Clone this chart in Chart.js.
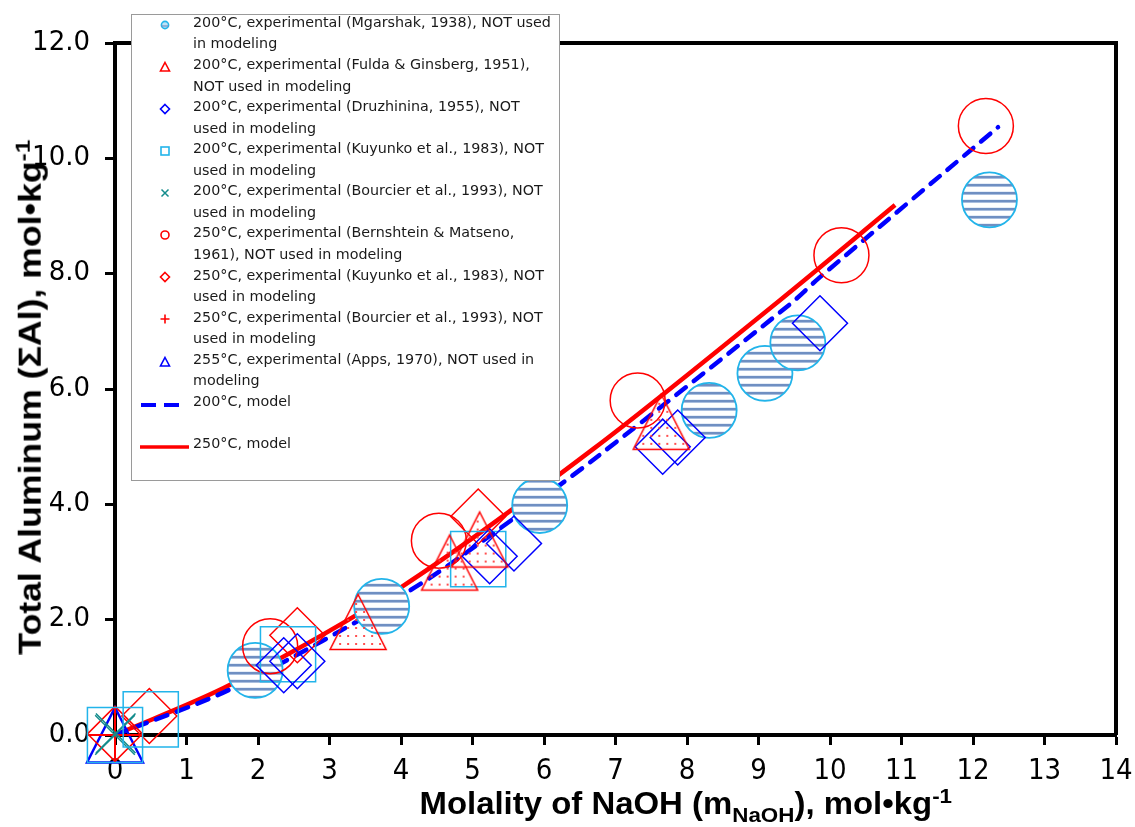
<!DOCTYPE html>
<html><head><meta charset="utf-8">
<script src="https://cdn.jsdelivr.net/npm/chart.js@4/dist/chart.umd.min.js"></script>
<style>
html,body{margin:0;padding:0;background:#fff;}
#wrap{position:relative;width:1135px;height:827px;overflow:hidden;}
#c{position:absolute;left:0;top:0;}
#legend{position:absolute;left:131px;top:14px;width:427px;height:465px;background:#fff;border:1px solid #9a9a9a;font-family:'DejaVu Sans',sans-serif;color:#1a1a1a;}
.ent{position:absolute;left:61px;white-space:nowrap;line-height:21.5px;}
.mk{position:absolute;width:16px;height:16px;}
.title{position:absolute;font-family:'Liberation Sans',Arial,sans-serif;font-weight:bold;white-space:nowrap;color:#000;line-height:1;transform-origin:50% 50%;}
.title sub,.title sup{font-size:68%;}
</style></head>
<body>
<div id="wrap">
<canvas id="c" width="1135" height="827"></canvas>
<div id="legend"></div>
<div id="ytitle" class="title" style="font-size:31px">Total Aluminum (&Sigma;Al), mol&bull;kg<sup>-1</sup></div>
<div id="xtitle" class="title" style="font-size:31px">Molality of NaOH (m<sub>NaOH</sub>), mol&bull;kg<sup>-1</sup></div>
</div>
<script>
// ---- data ----
const xTicks = [0,1,2,3,4,5,6,7,8,9,10,11,12,13,14];
const yTicks = [0,2,4,6,8,10,12];

const mgarshakX = [1.96, 3.73, 5.94, 8.31, 9.09, 9.55, 12.23];
const mgarshakY = [1.12, 2.23, 3.98, 5.63, 6.27, 6.80, 9.28];

const fuldaX = [3.40, 4.68, 5.10, 7.64];
const fuldaY = [1.96, 2.99, 3.39, 5.43];

const druzhX = [2.36, 2.55, 5.24, 5.58, 7.66, 7.87, 9.86];
const druzhY = [1.21, 1.28, 3.10, 3.32, 5.00, 5.16, 7.14];

const kuy200X = [0.00, 0.50, 2.42, 5.08];
const kuy200Y = [0.00, 0.27, 1.40, 3.05];

const bour200X = [0.00, 0.01];
const bour200Y = [0.00, 0.03];

const bernX = [2.17, 4.53, 7.31, 10.16, 12.18];
const bernY = [1.54, 3.37, 5.80, 8.32, 10.56];

const kuy250X = [0.00, 0.48, 2.55, 5.08];
const kuy250Y = [0.02, 0.33, 1.73, 3.79];

const bour250X = [0.00];
const bour250Y = [0.00];

const appsX = [0.00];
const appsY = [0.00];

const model200X = [0, 1.64, 4.13, 5.55, 6.75, 9.44, 9.86, 12.35];
const model200Y = [0, 0.81, 2.51, 3.73, 4.83, 7.47, 7.94, 10.54];

const model250X = [0, 1.61, 4.01, 6.70, 9.30, 10.91];
const model250Y = [0, 0.87, 2.57, 4.97, 7.54, 9.19];

const legendLines = [
  ["200°C, experimental (Mgarshak, 1938), NOT used", "in modeling"],
  ["200°C, experimental (Fulda & Ginsberg, 1951),", "NOT used in modeling"],
  ["200°C, experimental (Druzhinina, 1955), NOT", "used in modeling"],
  ["200°C, experimental (Kuyunko et al., 1983), NOT", "used in modeling"],
  ["200°C, experimental (Bourcier et al., 1993), NOT", "used in modeling"],
  ["250°C, experimental (Bernshtein & Matseno,", "1961), NOT used in modeling"],
  ["250°C, experimental (Kuyunko et al., 1983), NOT", "used in modeling"],
  ["250°C, experimental (Bourcier et al., 1993), NOT", "used in modeling"],
  ["255°C, experimental (Apps, 1970), NOT used in", "modeling"],
  ["200°C, model"],
  ["250°C, model"]
];

// ---- helpers ----
const pts = (xs, ys) => xs.map((x, i) => ({x, y: ys[i]}));

function stripePattern(){
  const p = document.createElement('canvas'); p.width = 8; p.height = 8;
  const g = p.getContext('2d');
  g.fillStyle = '#ffffff'; g.fillRect(0,0,8,8);
  g.fillStyle = '#e6edf7'; g.fillRect(0,7,8,1);
  g.fillStyle = '#6f8fc2'; g.fillRect(0,0,8,2);
  g.fillStyle = '#a9bedf'; g.fillRect(0,2,8,1);
  return g.createPattern(p, 'repeat');
}
function triangleImage(stroke, lw, dotted){
  const c = document.createElement('canvas'); c.width = 60; c.height = 60;
  const g = c.getContext('2d');
  g.beginPath(); g.moveTo(30, 2.5); g.lineTo(58, 57.5); g.lineTo(2, 57.5); g.closePath();
  if (dotted){
    const p = document.createElement('canvas'); p.width = 8; p.height = 8;
    const pg = p.getContext('2d');
    pg.fillStyle = 'rgba(255,60,60,0.9)'; pg.fillRect(3,3,2,2);
    g.save(); g.fillStyle = g.createPattern(p, 'repeat'); g.fill(); g.restore();
  }
  g.strokeStyle = stroke; g.lineWidth = lw; g.stroke();
  return c;
}

const stripes = stripePattern();
const triRed = triangleImage('#ff0000', 1.5, true);
const triBlue = triangleImage('#0000ff', 2.5, false);

const RED = '#ff0000', BLUE = '#0000ff', LBLUE = '#22b4ea', TEAL = '#138c8c';

function markerSet(xs, ys, style, r, border, bw, bg, order){
  return {data: pts(xs, ys), showLine: false, pointStyle: style, pointRadius: r,
    pointBorderColor: border, pointBorderWidth: bw, pointBackgroundColor: bg || 'rgba(0,0,0,0)',
    order: order || 1, clip: false};
}

const frame = {
  id: 'frame',
  beforeDatasetsDraw(chart){
    const {ctx, chartArea: a} = chart;
    ctx.save(); ctx.strokeStyle = '#000'; ctx.lineWidth = 4;
    ctx.beginPath(); ctx.moveTo(a.left, a.top); ctx.lineTo(a.right, a.top); ctx.lineTo(a.right, a.bottom);
    ctx.stroke(); ctx.restore();
  }
};

new Chart(document.getElementById('c'), {
  type: 'scatter',
  data: {
    datasets: [
      {data: pts(model200X, model200Y), showLine: true, borderColor: BLUE, borderWidth: 4.5,
        borderDash: [12, 10], borderCapStyle: 'round', pointRadius: 0, tension: 0.3, order: 10, clip: false},
      {data: pts(model250X, model250Y), showLine: true, borderColor: RED, borderWidth: 4.5,
        pointRadius: 0, tension: 0.3, order: 10, clip: false},
      markerSet(mgarshakX, mgarshakY, 'circle', 27.5, LBLUE, 1.8, stripes, 5),
      markerSet(fuldaX, fuldaY, triRed, 28, RED, 1, null, 1),
      markerSet(druzhX, druzhY, 'rectRot', 27.5, BLUE, 1.5, null, 1),
      markerSet(kuy200X, kuy200Y, 'rect', 39, LBLUE, 1.5, null, 1),
      markerSet(bour200X, bour200Y, 'crossRot', 28, TEAL, 1.5, null, 1),
      markerSet(bernX, bernY, 'circle', 27.5, RED, 1.5, null, 1),
      markerSet(kuy250X, kuy250Y, 'rectRot', 27.5, RED, 1.5, null, 1),
      markerSet(bour250X, bour250Y, 'cross', 28, RED, 2, null, 1),
      markerSet(appsX, appsY, triBlue, 28, BLUE, 1, null, 1)
    ]
  },
  options: {
    responsive: false, animation: false, devicePixelRatio: 1, events: [],
    layout: {autoPadding: false, padding: {top: 43, right: 19, left: 0, bottom: 0}},
    plugins: {legend: {display: false}, tooltip: {enabled: false}},
    scales: {
      x: {
        type: 'linear', min: 0, max: 14,
        afterBuildTicks: s => { s.ticks = xTicks.map(v => ({value: v})); },
        afterFit: s => { s.height = 92; s.paddingLeft = 0; s.paddingRight = 0; },
        ticks: {color: '#000', padding: 9, maxRotation: 0, autoSkip: false,
          font: {family: "'Liberation Sans Narrow','DejaVu Sans Condensed',sans-serif", size: 29}},
        grid: {drawOnChartArea: false, drawTicks: true, tickLength: 10, tickWidth: 3, tickColor: '#000'},
        border: {display: true, width: 4, color: '#000'}
      },
      y: {
        type: 'linear', min: 0, max: 12,
        afterBuildTicks: s => { s.ticks = yTicks.map(v => ({value: v})); },
        afterFit: s => { s.width = 115; s.paddingTop = 0; s.paddingBottom = 0; },
        ticks: {color: '#000', padding: 15, callback: v => Number(v).toFixed(1),
          font: {family: "'DejaVu Sans',sans-serif", size: 26}},
        grid: {drawOnChartArea: false, drawTicks: true, tickLength: 10, tickWidth: 3, tickColor: '#000'},
        border: {display: true, width: 4, color: '#000'}
      }
    }
  },
  plugins: [frame]
});

// ---- legend (HTML text) ----
(function(){
  const lg = document.getElementById('legend');
  const mc = document.createElement('canvas').getContext('2d');
  mc.font = "13px 'DejaVu Sans'";
  const fs = 13 * 358 / mc.measureText(legendLines[0][0]).width;
  lg.style.fontSize = fs.toFixed(2) + 'px';
  const ox = 132, oy = 15;
  const svgs = [
    '<circle cx="8" cy="8" r="3.6" fill="#bfe3f7" stroke="#22b4ea" stroke-width="1.6"/><line x1="4.5" y1="9" x2="11.5" y2="9" stroke="#6f8fc2" stroke-width="1.2"/>',
    '<polygon points="8,3.5 12.5,12 3.5,12" fill="none" stroke="#ff0000" stroke-width="1.6"/>',
    '<polygon points="8,3.5 12.5,8 8,12.5 3.5,8" fill="none" stroke="#0000ff" stroke-width="1.6"/>',
    '<rect x="4" y="4" width="8" height="8" fill="none" stroke="#22b4ea" stroke-width="1.6"/>',
    '<path d="M4.5 4.5 L11.5 11.5 M11.5 4.5 L4.5 11.5" stroke="#138c8c" stroke-width="1.5"/>',
    '<circle cx="8" cy="8" r="4" fill="none" stroke="#ff0000" stroke-width="1.6"/>',
    '<polygon points="8,3.5 12.5,8 8,12.5 3.5,8" fill="none" stroke="#ff0000" stroke-width="1.6"/>',
    '<path d="M8 3.5 L8 12.5 M3.5 8 L12.5 8" stroke="#ff0000" stroke-width="1.6"/>',
    '<polygon points="8,3.5 12.5,12 3.5,12" fill="none" stroke="#0000ff" stroke-width="1.6"/>'
  ];
  legendLines.forEach((lines, i) => {
    const cy = 22.7 + 42.1 * i;
    const d = document.createElement('div');
    d.className = 'ent';
    d.style.top = (cy - 10.75 - oy) + 'px';
    d.innerHTML = lines.map(t => t.replace(/&/g, '&amp;')).join('<br>');
    lg.appendChild(d);
    if (i < svgs.length){
      const m = document.createElementNS('http://www.w3.org/2000/svg', 'svg');
      m.setAttribute('class', 'mk'); m.setAttribute('viewBox', '0 0 16 16');
      m.style.left = (165 - 8 - ox) + 'px'; m.style.top = (cy + 2 - 8 - oy) + 'px';
      m.innerHTML = svgs[i];
      lg.appendChild(m);
    }
  });
  const ls = document.createElementNS('http://www.w3.org/2000/svg', 'svg');
  ls.setAttribute('width', '70'); ls.setAttribute('height', '60');
  ls.style.position = 'absolute'; ls.style.left = (136 - ox) + 'px'; ls.style.top = (395 - oy) + 'px';
  ls.innerHTML = '<line x1="5" y1="10" x2="43" y2="10" stroke="#0000ff" stroke-width="4" stroke-dasharray="15 8"/>' +
                 '<line x1="4" y1="52" x2="53" y2="52" stroke="#ff0000" stroke-width="3.5"/>';
  lg.appendChild(ls);
})();

// ---- axis titles (HTML text, fitted to reference lengths) ----
(function(){
  function place(el, cx, cy, target, rot){
    const w = el.offsetWidth, h = el.offsetHeight;
    const k = target / w;
    el.style.left = (cx - w / 2) + 'px';
    el.style.top = (cy - h / 2) + 'px';
    el.style.transform = (rot ? 'rotate(-90deg) ' : '') + 'scaleX(' + k.toFixed(3) + ')';
  }
  place(document.getElementById('ytitle'), 29, 397, 515, true);
  place(document.getElementById('xtitle'), 686, 805, 533, false);
})();
</script>
</body></html>
